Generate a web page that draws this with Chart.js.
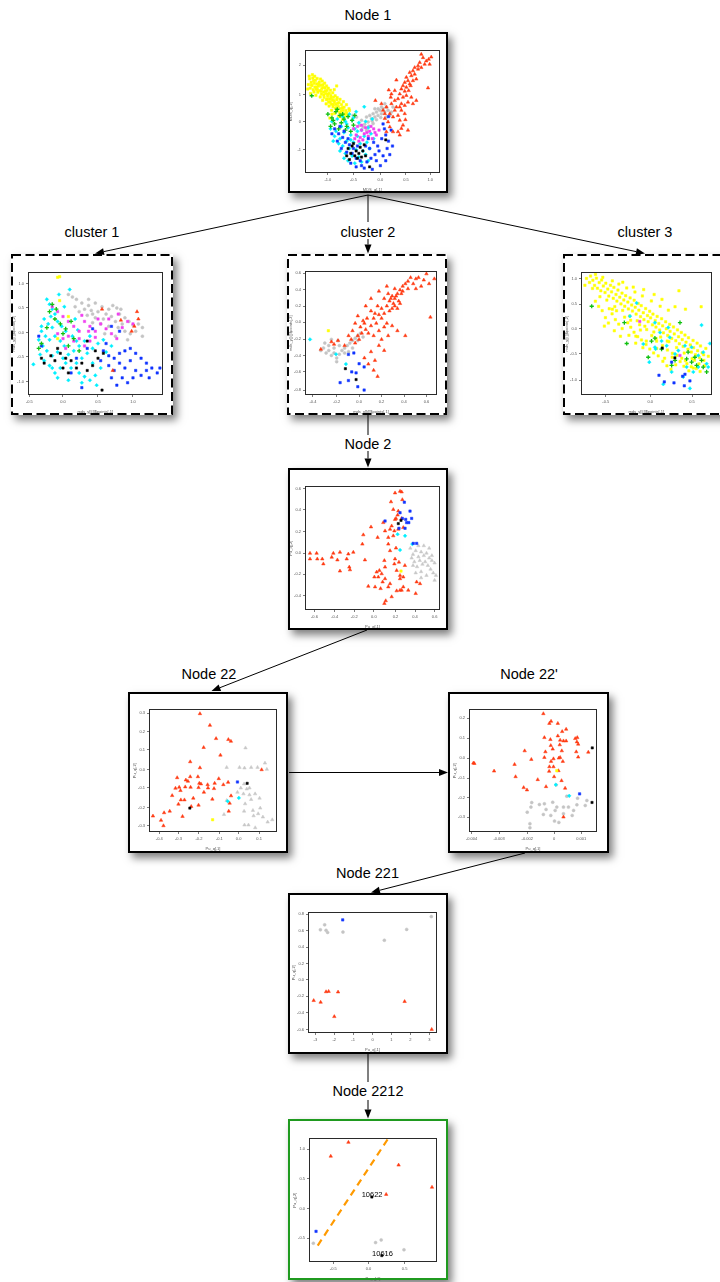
<!DOCTYPE html>
<html><head><meta charset="utf-8">
<script src="https://cdn.jsdelivr.net/npm/chart.js@4.4.0/dist/chart.umd.min.js"></script>
<style>
html,body{margin:0;padding:0;background:#fff;}
#stage{width:720px;height:1282px;position:relative;overflow:hidden;font-family:"Liberation Sans",Arial,sans-serif;}
.box{position:absolute;background:#fff;box-shadow:4px 5px 8px rgba(0,0,0,0.5);}
.title{position:absolute;font-size:14.5px;color:#000;transform:translate(-50%,-50%);white-space:nowrap;line-height:normal;}
canvas{position:absolute;}
svg{position:absolute;left:0;top:0;}
</style></head><body><div id="stage"></div>
<script>
// ---------------- DATA (x,y pairs, in % of each panel's axis range) ----------------
const panelTitles=["Node 1","cluster 1","cluster 2","cluster 3","Node 2","Node 22","Node 22'","Node 221","Node 2212"];

// Node 1
const n1Yellow=[2.5,72.1,3.4,76.8,3.9,69.2,4.6,74.0,5.2,71.3,5.8,77.5,6.1,67.9,6.9,73.2,7.4,70.1,7.8,75.6,8.3,68.4,8.9,72.7,9.5,65.9,9.9,70.8,10.6,74.1,10.9,67.2,11.7,71.5,12.2,64.3,12.5,68.9,13.3,72.0,13.8,66.0,14.2,61.7,14.9,69.4,15.4,64.8,15.9,59.9,16.4,67.3,16.8,62.6,17.5,57.8,18.1,65.0,18.4,60.4,19.2,63.1,19.6,56.2,20.3,59.5,20.8,54.1,21.2,61.8,21.9,57.6,22.5,52.7,23.0,55.9,23.6,59.8,24.1,50.8,24.7,54.3,25.3,57.4,25.8,49.2,26.4,52.6,27.1,55.8,27.6,47.5,28.3,51.0,29.0,53.6,29.6,48.3,30.4,50.9,31.2,46.8,6.7,66.1,4.1,64.9,8.1,63.4,11.3,62.0,13.1,59.3,15.7,56.4,17.9,54.6,19.8,51.2,22.1,48.6,24.9,46.3,3.1,79.0,5.5,80.2,7.2,78.9,9.0,77.1,11.5,76.6,12.8,75.0,14.6,73.3,16.0,71.0,17.3,69.2,18.9,67.5,20.6,65.4,22.4,63.0,23.9,61.5,26.0,60.1,28.5,58.2,30.8,55.7,32.7,52.4,2.0,68.5,4.8,71.9,9.2,68.1,12.0,66.6,14.0,63.6,16.6,60.2,18.7,58.0,21.0,55.8,23.4,53.3,26.9,50.3,29.2,45.9,6.3,75.3,8.6,70.0,10.3,72.4,13.6,69.8,15.1,66.9,17.0,64.4,19.4,61.4,21.5,59.0,24.3,56.9,27.8,53.2,23.5,71,21.7,68,31,49,26,46,33,51,20,48,28,43.5,18.5,44.8];
const n1Red=[86.4,96.8,87.7,94.1,93.8,94.6,90.1,91.4,85.2,90.1,84,87.4,81.5,86,80.2,83.3,77.8,82,79,79.3,75.3,78,76.5,75.3,74.1,73.9,77.8,72.6,72.8,71.2,75.3,69.9,71.6,68.5,67.9,75.8,70.4,64.5,72.8,61.8,69.1,60.5,66.7,59.1,64.2,56.5,67.9,53.8,71.6,51.1,74.1,55.1,76.5,57.8,74.1,48.4,70.4,43,72.8,39,71.6,36.3,69.1,33.6,70.4,30.9,65.4,33.6,63,37.6,60.5,33.6,61.7,41.7,59.3,44.4,66.7,67.2,64.2,64.5,62.2,67.7,63.7,61.8,91.4,69.4,82.7,76.6,80.2,75.3,78.5,71.2,77,67.2,75.3,63.2,79,61.8,80.2,56.5,82.7,59.1,81.5,80.6,84,84.7,88.9,88.7,86.4,86,91.9,92.7,92.6,88.7,74.1,66.7,71.6,56.5,69.1,47,65.4,45.7,63,48.4,60.5,53.8,59.3,48.4,56.8,56.5,58,51.1,52.3,59.1,66.7,51.1,70.4,53.8,74.6,43.5,76.5,34.9];
const n1Grey=[45.7,45.7,48.1,47,50.6,48.4,53.1,49.7,55.6,51.1,58,52.4,60.5,53.8,49.4,44.4,51.9,45.7,54.3,47,56.8,48.4,59.3,49.7,61.7,51.1,46.9,41.7,49.9,42.5,53.1,43.5,56.3,45.2,44.4,39.8,47.4,38.2,42,43,64.2,49.7,63,47,65.4,53.8,59.3,56.5,56.8,53.8,54.3,52.4,43.2,37.6,40.7,39,45.7,34.9,50.6,40.3,60.5,45.7,38.3,45.7,35.8,47,51.9,52.4];
const n1Cyan=[44,54,38,50,33,48,28,46,24,44,20,42,30,42,35,43,40,41,27,38,32,37,37,36,42,35,47,37,23,34,29,33,34,31,39,30,44,30,49,32,26,28,31,26,36,25,41,24,46,25,28,22,33,20,38,19,43,18,30,16,35,14,40,13,45,15,32,10,37,8,42,9,25,24,22,30,19,36,34,27,39,34,45,42,50,44,36,45,31,40,26,18,48,20,29,12,47,10,51,28,21,26];
const n1Green=[5,63,17,48,20,45,23,50,26,47,29,44,32,46,35,43,22,40,27,41,31,38,36,39,19,38,25,36,34,34,28,48,24,52,37,47,30,35,21,43];
const n1Magenta=[36,36,39,38,42,35,45,37,48,34,51,36,38,31,41,29,44,32,47,30,50,28,53,31,40,26,43,27,46,33,49,38,37,28,52,33,55,35,42,39];
const n1Blue=[22,36,25,32,28,29,24,26,30,25,33,23,27,20,31,17,35,16,38,12,34,8,38,5,42,6,46,9,49,12,52,15,55,18,58,14,61,20,48,20,51,25,54,22,57,28,60,31,62,26,64,35,62,46,58,40,45,22,41,10,36,20,29,34,26,38,44,4,53,10,56,6,50,3,60,10,63,15,47,28,39,22,32,28,20,32,65,22,59,36];
const n1Black=[32,20,35,22,38,18,41,21,34,16,37,14,40,16,43,18,36,24,39,12,42,13,31,14,44,23,48,5,60,27,33,11,45,14];

// cluster 1
const c1Grey=[30,82,33,80,36,78,40,75,45,73,50,75,55,72,60,70,63,73,66,71,58,66,52,68,47,69,42,70,38,68,35,72,62,64,68,66,72,63,75,60,78,57,82,58,85,55,80,52,70,58,65,60,56,62,50,63,44,65,72,52,76,50,60,56,54,58,48,59,67,55,74,45,65,48,57,50,85,48,69,70,45,78,48,66];
const c1Cyan=[14,78,16,74,18,70,20,66,12,62,15,58,18,55,22,60,25,56,28,52,10,52,13,48,16,45,20,48,24,44,27,40,8,45,11,40,14,36,18,32,22,35,26,30,30,33,34,36,38,40,42,44,46,48,9,33,12,28,16,24,20,18,24,22,28,26,32,22,36,26,40,30,44,34,48,38,52,42,56,45,4,25,18,22,22,14,30,12,38,18,42,15,46,12,50,16,54,22,48,26,40,10,51,8,27,72,31,86,35,62,58,35,62,40,10,56,33,48,37,53,17,64,23,82,36,44];
const c1Magenta=[18,72,22,68,26,64,30,60,34,56,38,52,42,60,46,56,50,52,54,58,58,54,62,50,66,46,70,55,74,60,78,58,30,48,34,44,38,46,42,40,46,44,50,47,22,50,26,46,40,65,52,62,60,62,67,66,28,38,45,52];
const c1Blue=[8,48,10,40,56,36,60,32,64,30,68,34,72,36,76,38,80,34,84,30,88,26,92,22,96,18,60,24,64,20,68,26,72,22,76,28,80,20,84,16,88,20,70,14,74,10,66,8,78,14,90,14,98,22,62,14,40,6,54,28,58,42,44,38,36,30,32,18,48,54,62,56,68,52];
const c1Black=[10,30,12,26,17,32,20,28,24,34,28,30,32,28,36,22,40,26,44,20,48,24,52,30,56,34,30,18,26,22,55,4,44,44,50,36,22,38];
const c1Green=[8,38,10,42,14,55,16,68,18,74,20,62,24,58,28,54,32,60,26,50,34,46,38,36,30,40,21,70];
const c1Red=[55,70,69,61,81,68,82,62,79,56,77,52,63,20];
const c1Yellow=[22,96,23.5,96.5,23.5,77,30,64,22,46];

// cluster 2
const c2Red=[12,37,20,43,22,41,25,44,30,40,33,48,36,52,38,58,35,45,40,48,42,55,44,60,46,53,48,50,50,56,52,62,54,58,56,65,58,70,60,66,62,72,64,76,66,80,68,78,70,82,72,85,74,88,76,90,78,92,80,95,84,94,86,95,90,93,92,98,98,94,63,82,65,78,67,74,69,80,71,76,73,82,68,72,66,70,70,70,72,74,64,68,60,78,58,62,55,72,53,66,50,68,47,62,45,58,43,50,41,45,38,42,52,48,56,52,60,55,62,58,66,56,70,52,76,48,95,63,63,48,58,45,56,40,50,35,45,30,48,25,52,20,55,15,53,28,60,36,40,64,46,72,50,78,56,84,62,88,68,86,74,84,82,90,88,88,94,90,78,86,84,86];
const c2Grey=[12,36,14,38,16,34,18,36,20,32,22,34,24,30,26,33,28,36,30,38,32,40,34,42,36,44,38,46,40,48,42,50,44,47,22,38,26,40,30,34,18,40,15,42,20,45,25,44,36,38,40,44,24,27,33,35];
const c2Yellow=[17.7,52];
const c2Cyan=[3.8,45,23.5,33,31,25];
const c2Blue=[32.9,32.8,37,34,41,25.3,44.8,22.7,38.7,17.9,35.4,18.7,26.6,10,32.9,11.7,40,6.7,44.8,4];
const c2Black=[30.6,21.3,38.7,12.5];

// cluster 3
const c3Yellow=[4.2,95.1,6.5,91.8,7.3,97.0,9.1,93.6,10.4,89.4,11.8,95.3,12.6,87.1,13.9,91.7,15.2,85.0,15.8,93.8,17.1,88.9,18.4,83.6,19.0,91.2,20.5,86.4,21.3,80.7,22.6,89.5,23.4,84.1,24.7,78.9,25.2,87.8,26.8,82.0,27.5,76.6,28.3,85.6,29.7,79.8,30.6,74.3,31.4,83.1,32.8,77.5,33.5,72.4,34.2,81.0,35.9,75.8,36.3,70.2,37.6,79.2,38.8,73.4,39.4,68.5,40.7,77.3,41.5,71.6,42.2,66.0,43.8,74.6,44.3,69.2,45.6,63.9,46.1,72.9,47.7,67.1,48.2,61.5,49.5,70.5,50.9,64.8,51.4,59.8,52.6,68.3,53.3,62.9,54.7,57.2,55.1,66.0,56.8,60.7,57.4,55.4,58.3,64.1,59.6,58.3,60.2,53.0,61.7,62.2,62.5,56.4,63.1,50.7,64.8,59.7,65.3,54.0,66.4,48.6,67.9,57.6,68.2,51.9,69.5,46.2,70.8,55.5,71.4,49.8,72.6,44.3,73.9,53.1,74.7,47.5,75.3,41.8,76.8,51.0,77.5,45.2,78.2,39.6,79.6,48.9,80.4,43.1,81.9,37.3,82.3,46.7,83.7,40.8,84.5,35.0,85.8,44.5,86.2,38.6,87.6,32.8,88.9,42.3,89.3,36.1,90.7,30.5,91.5,40.0,92.8,34.4,94.1,28.2,95.6,38.0,8.8,86.9,14.5,80.2,19.8,77.4,25.9,72.1,31.9,69.0,37.2,64.4,43.0,60.6,48.9,56.1,55.8,51.4,61.0,47.3,67.3,43.5,73.2,38.7,79.0,34.2,85.1,29.7,90.3,25.4,3.0,89.5,11.1,98.4,16.7,96.0,24.0,93.1,29.0,90.5,35.0,87.3,41.3,84.0,47.0,80.8,53.9,76.7,60.6,72.4,66.9,69.2,40,88,62,78,75,85,80,70,92,72,72,72,56,82,32,92,48,86,66,44,58,38,50,44,42,48,70,34,80,28,86,22,64,30,38,61,24,70,57.5,46,45.5,53,11,76.5,13.5,72.3,16.2,68.8,18.7,63.1,17.9,56.2,21.6,70.4,23.8,66.2,26.3,61.5,28.9,57.8,31.5,54.2,27.2,68.7,33.4,63.5,35.8,58.9,38.1,55.3,40.6,51.2,43.4,47.6,46.3,44.9,49.8,41.2,52.7,37.5,36.7,48.7,41.9,42.3,47.4,38.6,55.6,34.3,59.1,31.9,62.7,27.5,65.8,23.8,68.9,20.9,72.5,24.6,75.9,27.3,78.8,23.5,82.6,19.7,86.9,28.4,91.2,19.2,94.7,24.1,97.5,31.6,30.2,47.9,25.5,52.4,21.0,58.7,44.9,57.3,50.3,53.4,54.2,48.5,57.9,43.9,62.4,40.3,66.2,36.7,69.8,30.8,73.6,32.4,77.2,30.0,81.1,25.6,84.4,23.0,88.3,21.6,93.9,32.8];
const c3Green=[8.2,72.4,35,42,33.2,59,54,44,61.7,37.5,75.8,59,82,34.9,87.2,30.8,92.3,28.2,96.2,18.8,93.6,22.8,69.4,24.1,72,28.2,51.5,30.8,56.6,46.4,84.7,26.8,88.5,24.1,80.9,29.5];
const c3Cyan=[42.6,75,37.5,64.3,56.6,59,66.8,55,68,47,61.7,44,56.6,38.9,52.3,26.8,72,33.5,79.6,40.2,84.7,38.9,89.8,32.2,93.6,34.9,98.7,42,97.4,22.8,92.3,57,69.4,18.8,78.3,14.7,83.4,5.4,63,8.8,80.9,22.8,86,18.8,47.7,41.6,60.5,51,65.6,40.2,74.5,36.2,89.8,22.8,96.2,25.5,57.1,37.5];
const c3Blue=[59.7,16.1,63.8,10.7,71.2,9.9,77.8,15.3,79.1,7.5,83.4,11.5,79.6,16.9,69.4,26.8];
const c3Black=[62.2,38.3,71.9,30.3];
const c3Magenta=[45,60,75.8,32.2];

// Node 2
const n2Red=[3.7,45.9,8.6,45.9,3.7,41.3,9.1,41.3,13.6,37.3,12.8,41.3,19.8,42.7,21,45.9,25.9,46.7,24,40.5,30.9,41.3,32.1,45.3,35.8,46.7,32.8,34.7,33.3,32.5,25.9,31.5,44.4,40.5,42.5,53.3,43.2,60.8,48.9,67.2,53.8,58.7,70.4,96,71.6,95.5,72.1,89.3,66.7,94.7,63.7,87.5,65.4,81.3,69.1,80,66.7,73.3,64.2,68,59.3,64,61.7,58.7,66.2,64,69.1,65.3,63,65.3,65.4,60,72.8,66.7,67.4,74.1,68.6,76.8,71.6,74.1,63,48,66.7,41.3,66.2,37.3,67.9,32,70.4,28,72.8,26.7,70.4,16,67.9,15.5,72.8,18.7,64.2,10.7,58.8,5.3,59.8,7.5,56,17.3,54.3,26.7,53.1,30.7,56.8,29.3,57.5,22.7,59.3,25.3,61.7,18.7,63,21.3,46.9,19.2,51.9,18.7,58.8,40,82,13.3,82.7,22.7,85.2,21.3,76.5,16,71.6,16,67.4,50.1,61.7,53.3,58,70.7,51.4,26.7,55.1,32,59.3,34.7,69.6,38.7,74,36,70.4,25.3];
const n2Blue=[73.6,87.2,70.4,78.7,72.1,74.1,74.6,73.3,77.8,80,76.9,70.7,75.3,70.7,59.3,72,69.6,66.1,74.1,66.1,79,74.1,82.7,53.9,80.2,53.9];
const n2Black=[69.1,69.9,71.1,72.5];
const n2Cyan=[74.1,60,68.6,61.3,70.4,48.5,79.5,53.3];
const n2Yellow=[71.1,31.5];
const n2Grey=[78,50,80,45,82,48,84,43,86,47,88,44,90,46,92,42,94,40,96,38,85,40,87,37,89,39,91,36,93,33,95,30,83,35,81,39,79,42,86,31,90,28,97,28,88,52,84,52,92,50,80,36,86,26,94,44,82,30,96,24];

// Node 22
const n22Red=[39.8,96.5,47.6,87,52.4,76.2,62,75.4,64,74,42.7,68.9,55.8,62.7,32.2,57.3,39.8,52.4,22,44.3,28.8,42.4,32.2,45.1,38.2,45.1,30.4,41.4,54.5,43.5,61.8,40.5,51.3,39.7,45.8,38.6,39.3,39.7,40.6,39.2,23.6,36.5,24.6,33.8,28.3,36.8,32.5,36.5,20.7,35.7,38.7,36.2,42.9,32.4,46.1,35.9,50.8,35.4,58.1,38.6,18.1,29.7,24.9,26.2,27.7,26.2,34.6,27.6,49.5,26.8,64.1,29.5,23,22.7,38.7,21.9,33,20.8,16.2,17,11.8,15.7,3.1,13,9.4,9.5,11.3,5.1,26.2,12.7,62.3,17,63,23.5,88,50.8];
const n22Grey=[75.4,68.6,60.7,52.7,70.7,52.7,74.6,52.2,79.8,52.7,84.8,52.7,90.6,56.2,92.1,51.1,74.3,39.2,78.5,35.9,76.4,35.1,73.8,31.1,78.5,30.3,82.9,31.1,79.8,26.5,86.4,27.6,75.1,23,74.3,17,81.2,17.6,85.3,14.9,81.7,13.2,86.9,19.5,89,12.2,92.7,8.1,96.3,10,74.6,5.7,77.7,5.7,83,3.5,58.6,14.3,60.7,25.7,69.1,32.4,71.7,35.9];
const n22Blue=[69.1,40.8];
const n22Black=[76.7,39.7,31.9,19.5];
const n22Cyan=[70.2,27.8,61.5,25.1];
const n22Yellow=[49.7,10];

// Node 22'
const n22pRed=[58.1,96.5,64.1,90.3,62.8,88.6,69.4,88.6,75.9,83.8,72.8,81.9,69.4,78.4,58.9,77,63.6,75.4,71.2,74.9,73.8,74.3,75.9,74.3,83,76.2,84.6,77,85.3,71.6,84.3,73.5,70.9,71.1,63.9,70.5,65.4,67.6,72.5,66.2,93.2,65.1,59.7,65.4,43.5,66.2,83.8,65.4,85.3,61.1,58.9,60.8,71.2,60.8,70.2,60.3,66,59.7,48.7,59.2,64.1,57.6,73.3,57.6,62.8,53.2,66,53.2,3.4,56.2,4.2,55.9,19.6,49.7,35.6,55.1,36.4,45.1,62.6,49.5,69.9,50,66.5,45.1,53.7,42.7,72.3,41.9,60.2,37,75.1,35.7,42.7,36.2,45.3,34.3,73.8,12.2];
const n22pYellow=[68.6,50];
const n22pGrey=[68.1,38.4,76.4,29.2,84.8,27.6,92.1,25.7,90.8,21.6,84.3,22.2,81.7,17.6,77.7,20.3,73.8,20.3,73.8,14.9,68.6,20.3,67.3,17.6,65.4,24.3,63.9,13.5,60.2,18.4,58.1,14.3,66.8,8.9,70.2,7.8,80.6,13.5,55,22.4,49,24,48.4,20.3,45.5,16.2,47.6,6.8,47.6,3.5,58.9,23];
const n22pCyan=[78.3,29.5,67.8,38.6];
const n22pBlue=[86.4,31.1];
const n22pBlack=[96.3,68.6,96.1,24.1];

// Node 221
const n221Grey=[9.6,85.6,12.9,89.7,14,85.1,15.2,83.4,27.1,83.7,59.2,76.9,76.5,85.9,95.6,96.5];
const n221Blue=[26.9,93.8];
const n221Red=[4.4,26.9,9.8,25.5,14,34.2,16,34.5,23.3,34,20.4,13.6,74.9,26.1,95.9,3];

// Node 2212
const n2212Red=[30.8,96.8,17,85.6,70,78.4,60.3,54.7,96.1,60.5];
const n2212Black=[49.1,52.6,56.9,5.2];
const n2212Blue=[5.5,24.8];
const n2212Grey=[3.4,15.2,52,15.7,56.4,17.9,74.2,9.9];
const n2212Line=[6.8,13.3,61.4,99.2];
const n2212Labels=["10622","10616"];
const n2212LabelPos=[49.3,54.4,57.4,6.7];

// tick positions / labels
const n1XT=[17,36,56,75,93], n1XL=["-1.0","-0.5","0.0","0.5","1.0"], n1YT=[19,42,64,88], n1YL=["-1","0","1","2"];
const c1XT=[1,26,52,78], c1XL=["-0.5","0.0","0.5","1.0"], c1YT=[11,31,51,71,91], c1YL=["-1.0","-0.5","0.0","0.5","1.0"];
const c2XT=[6,24,41,58,75,92], c2XL=["-0.4","-0.2","0.0","0.2","0.4","0.6"], c2YT=[4,19,32,45,59,72,85,98.7], c2YL=["-0.8","-0.6","-0.4","-0.2","0.0","0.2","0.4","0.6"];
const c3XT=[19,53,85], c3XL=["-0.5","0.0","0.5"], c3YT=[12,33.5,54,74,95], c3YL=["-1.0","-0.5","0.0","0.5","1.0"];
const n2XT=[7,22,36.5,51,67,81.5,96], n2XL=["-0.6","-0.4","-0.2","0.0","0.2","0.4","0.6"], n2YT=[11.5,29,46,63.5,81,98], n2YL=["-0.4","-0.2","0.0","0.2","0.4","0.6"];
const n22XT=[8,23,39,55,70,86], n22XL=["-0.4","-0.3","-0.2","-0.1","0.0","0.1"], n22YT=[5,20,36,51,67,82,97], n22YL=["-0.3","-0.2","-0.1","0.0","0.1","0.2","0.3"];
const n22pXT=[2,23.5,45.5,66.5,87.7], n22pXL=["-0.004","-0.003","-0.002","0","0.001"], n22pYT=[12.2,27.8,44,60.3,76.5,92.7], n22pYL=["-0.3","-0.2","-0.1","0.0","0.1","0.2"];
const n221XT=[5.7,20.4,35,50,64.6,79.3,94], n221XL=["-3","-2","-1","0","1","2","3"], n221YT=[2.7,16.8,30.4,44,57.6,71.2,84.8,98.4], n221YL=["-0.6","-0.4","-0.2","0.0","0.2","0.4","0.6","0.8"];
const n2212XT=[19,46.5,74.7], n2212XL=["-0.5","0.0","0.5"], n2212YT=[19.2,43.2,67.2,91.2], n2212YL=["-0.5","0.0","0.5","1.0"];

// ---------------- LAYOUT / STYLE ----------------
const stage=document.getElementById('stage');
const STY={
 red:{c:'#ff3a12',s:'triangle',r:2.0},
 yellow:{c:'#ffff00',s:'rect',r:1.7},
 grey:{c:'#c4c4c4',s:'circle',r:1.5},
 greyT:{c:'#c8c8c8',s:'triangle',r:2.0},
 cyan:{c:'#00f0ff',s:'rectRot',r:1.8},
 green:{c:'#10c010',s:'cross',r:2.1,w:1.3},
 magenta:{c:'#f040f0',s:'rect',r:1.7},
 blue:{c:'#1034ff',s:'rect',r:1.7},
 black:{c:'#000000',s:'rect',r:1.6}
};
function pts(a){const o=[];for(let i=0;i<a.length;i+=2)o.push({x:a[i],y:a[i+1]});return o;}
function ds(a,k){const s=STY[k];return {data:pts(a),pointStyle:s.s,pointRadius:s.r,pointHoverRadius:s.r,backgroundColor:s.c,borderColor:s.c,borderWidth:s.w||0.5,showLine:false,clip:6};}
const framePlugin={id:'frame',afterDatasetsDraw(c){const a=c.chartArea,g=c.ctx;g.save();g.strokeStyle='#2a2a2a';g.lineWidth=1;g.strokeRect(Math.round(a.left)+0.5,Math.round(a.top)+0.5,Math.round(a.right-a.left)-1,Math.round(a.bottom-a.top)-1);g.restore();}};

function axis(t,l,title,isX,fitSize){
 return {type:'linear',min:0,max:100,
  afterFit(s){if(isX)s.height=fitSize;else s.width=fitSize;},
  afterBuildTicks(s){s.ticks=t.map(v=>({value:v}));},
  ticks:{autoSkip:false,maxRotation:0,font:{size:4,family:'Liberation Sans'},color:'#555',padding:2,callback:(v,i)=>l[i]},
  grid:{drawOnChartArea:false,drawTicks:true,tickLength:2,color:'#444',lineWidth:0.7},
  border:{display:false},
  title:{display:true,text:title,font:{size:4,family:'Liberation Sans'},color:'#555',padding:{top:1,bottom:1}}};
}
function makePanel(r,sets,xt,xl,yt,yl,xTitle,yTitle,extra){
 const ML=18,MT=3,MR=3,MB=20;
 const cv=document.createElement('canvas');
 cv.width=r[2]+ML+MR;cv.height=r[3]+MT+MB;
 cv.style.left=(r[0]-ML)+'px';cv.style.top=(r[1]-MT)+'px';
 stage.appendChild(cv);
 new Chart(cv,{type:'scatter',data:{datasets:sets},options:{
  responsive:false,animation:false,devicePixelRatio:1,events:[],
  layout:{padding:{top:MT,right:MR,left:0,bottom:0}},
  plugins:{legend:{display:false},tooltip:{enabled:false}},
  scales:{x:axis(xt,xl,xTitle,true,MB),y:axis(yt,yl,yTitle,false,ML)}},
  plugins:[framePlugin].concat(extra||[])});
}
function addBox(b){const d=document.createElement('div');d.className='box';d.style.left=b[0]+'px';d.style.top=b[1]+'px';d.style.width=b[2]+'px';d.style.height=b[3]+'px';stage.appendChild(d);}
function addTitle(t,x,y){const d=document.createElement('div');d.className='title';d.textContent=t;d.style.left=x+'px';d.style.top=y+'px';stage.appendChild(d);}

const boxes=[[288,32,160,161],[11,254,162,161],[287,254,160,161],[563,254,162,161],[288,468,160,162],[128,692,160,161],[448,692,161,161],[288,893,160,161],[288,1119,160,161]];
const boxKind=['solid','dash','dash','dash','solid','solid','solid','solid','green'];
const titlePos=[[368,15],[92,231.5],[368,231.5],[645,231.5],[368,443.5],[209,673.5],[529,673.5],[367.5,872.5],[368,1091]];
boxes.forEach(addBox);
panelTitles.forEach((t,i)=>addTitle(t,titlePos[i][0],titlePos[i][1]));

// plot areas [left, top, width, height]
const PA=[[305,49,135,124],[28,271,135,124],[305,270,132,125],[581,271,131,124],[305,485,135,125],[149,708,128,124],[469,708,128,124],[308,911,129,122],[309,1137,128,125]];
const tM="MDS_q[,1]",tMy="MDS_q[,2]",tC="mds_y[[i]]$points[,1]",tCy="mds_y[[i]]$points[,2]",tP="Pu_q[,1]",tPy="Pu_q[,2]";

makePanel(PA[0],[ds(n1Red,'red'),ds(n1Black,'black'),ds(n1Blue,'blue'),ds(n1Magenta,'magenta'),ds(n1Green,'green'),ds(n1Cyan,'cyan'),ds(n1Grey,'grey'),ds(n1Yellow,'yellow')],n1XT,n1XL,n1YT,n1YL,tM,tMy);
makePanel(PA[1],[ds(c1Yellow,'yellow'),ds(c1Red,'red'),ds(c1Black,'black'),ds(c1Green,'green'),ds(c1Blue,'blue'),ds(c1Magenta,'magenta'),ds(c1Cyan,'cyan'),ds(c1Grey,'grey')],c1XT,c1XL,c1YT,c1YL,tC,tCy);
makePanel(PA[2],[ds(c2Black,'black'),ds(c2Blue,'blue'),ds(c2Cyan,'cyan'),ds(c2Yellow,'yellow'),ds(c2Red,'red'),ds(c2Grey,'grey')],c2XT,c2XL,c2YT,c2YL,tC,tCy);
makePanel(PA[3],[ds(c3Black,'black'),ds(c3Magenta,'magenta'),ds(c3Blue,'blue'),ds(c3Green,'green'),ds(c3Cyan,'cyan'),ds(c3Yellow,'yellow')],c3XT,c3XL,c3YT,c3YL,tC,tCy);
makePanel(PA[4],[ds(n2Yellow,'yellow'),ds(n2Black,'black'),ds(n2Blue,'blue'),ds(n2Cyan,'cyan'),ds(n2Red,'red'),ds(n2Grey,'greyT')],n2XT,n2XL,n2YT,n2YL,tP,tPy);
makePanel(PA[5],[ds(n22Yellow,'yellow'),ds(n22Black,'black'),ds(n22Blue,'blue'),ds(n22Cyan,'cyan'),ds(n22Red,'red'),ds(n22Grey,'greyT')],n22XT,n22XL,n22YT,n22YL,tP,tPy);
makePanel(PA[6],[ds(n22pYellow,'yellow'),ds(n22pBlack,'black'),ds(n22pBlue,'blue'),ds(n22pCyan,'cyan'),ds(n22pRed,'red'),ds(n22pGrey,'grey')],n22pXT,n22pXL,n22pYT,n22pYL,tP,tPy);
makePanel(PA[7],[ds(n221Blue,'blue'),ds(n221Red,'red'),ds(n221Grey,'grey')],n221XT,n221XL,n221YT,n221YL,tP,tPy);
const lblPlugin={id:'lbl',afterDatasetsDraw(c){const g=c.ctx;g.save();g.font='7.5px "Liberation Sans"';g.fillStyle='#000';g.textAlign='center';g.textBaseline='middle';n2212Labels.forEach((t,i)=>{g.fillText(t,c.scales.x.getPixelForValue(n2212LabelPos[2*i]),c.scales.y.getPixelForValue(n2212LabelPos[2*i+1]));});g.restore();}};
makePanel(PA[8],[ds(n2212Black,'black'),ds(n2212Blue,'blue'),ds(n2212Red,'red'),ds(n2212Grey,'grey'),
 {data:pts(n2212Line),showLine:true,borderColor:'#ff9a00',borderWidth:2.2,borderDash:[7,5],pointRadius:0,fill:false,clip:0}],
 n2212XT,n2212XL,n2212YT,n2212YL,tP,tPy,[lblPlugin]);

// ---------------- SVG: borders & arrows ----------------
const NS='http://www.w3.org/2000/svg';
const svg=document.createElementNS(NS,'svg');svg.setAttribute('width',720);svg.setAttribute('height',1282);stage.appendChild(svg);
function el(n,a){const e=document.createElementNS(NS,n);for(const k in a)e.setAttribute(k,a[k]);svg.appendChild(e);return e;}
boxes.forEach((b,i)=>{const k=boxKind[i];
 const a={x:b[0]+1,y:b[1]+1,width:b[2]-2,height:b[3]-2,fill:'none',stroke:k==='green'?'#1f9a1f':'#000','stroke-width':2};
 if(k==='dash')a['stroke-dasharray']='9 4.5';
 el('rect',a);});
function line(x1,y1,x2,y2){el('line',{x1,y1,x2,y2,stroke:'#000','stroke-width':1});}
function arrow(x1,y1,x2,y2){const L=9,W=3.5;const dx=x2-x1,dy=y2-y1,d=Math.hypot(dx,dy),ux=dx/d,uy=dy/d;
 const bx=x2-ux*L,by=y2-uy*L;line(x1,y1,bx,by);
 el('polygon',{points:`${x2},${y2} ${bx-uy*W},${by+ux*W} ${bx+uy*W},${by-ux*W}`,fill:'#000'});}
arrow(368,195,95,253.5);
line(368,195,368,222);arrow(368,239,368,253.5);
arrow(368,195,645,253.5);
line(368,415,368,435);arrow(368,451,368,467.5);
arrow(367,630,211.5,691);
arrow(289,772.5,448,772.5);
arrow(525,853,371,892.5);
line(368,1054,368,1082);arrow(368,1100,368,1118.5);
</script></body></html>
